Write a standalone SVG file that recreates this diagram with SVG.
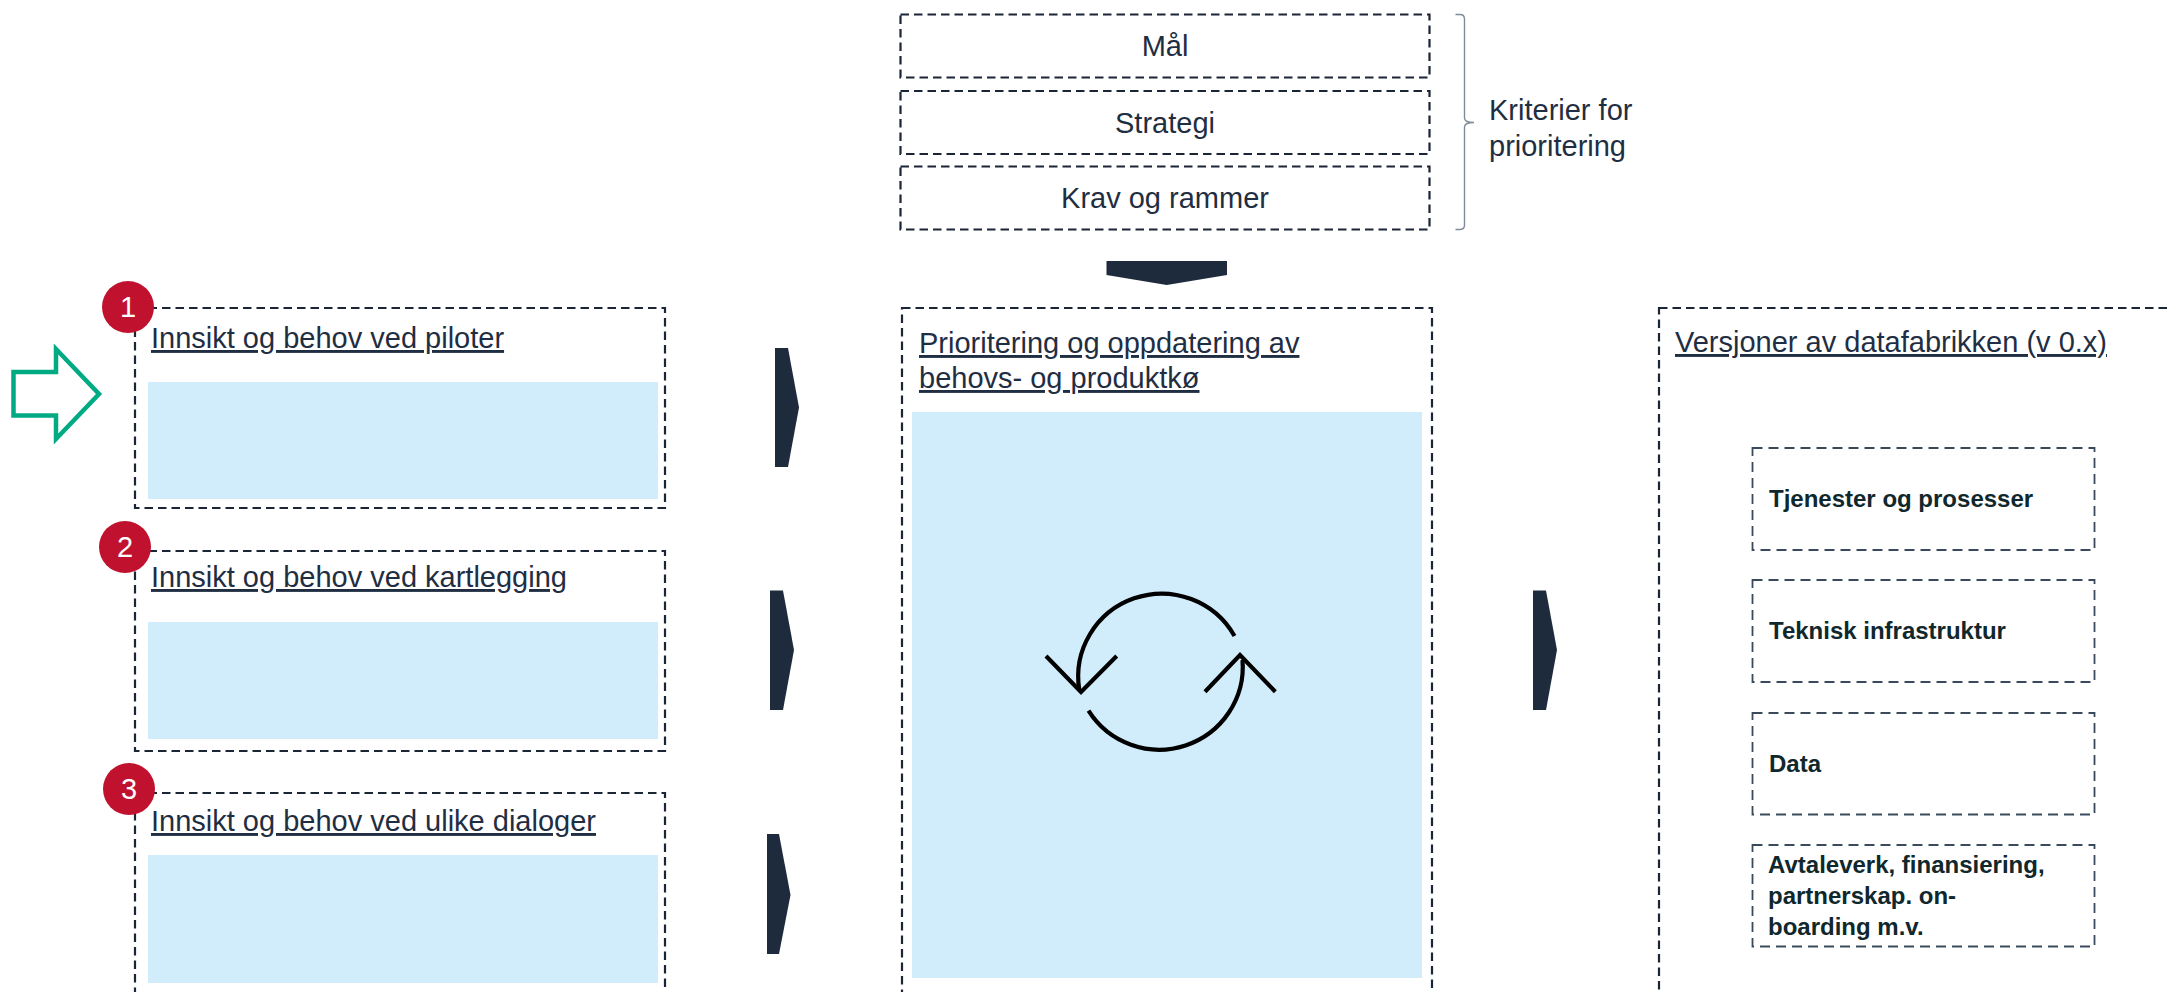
<svg xmlns="http://www.w3.org/2000/svg" width="2169" height="992" viewBox="0 0 2169 992">
<style>
.box{fill:none;stroke:#1a2535;stroke-width:2.2;stroke-dasharray:8.5 5}
.sub{fill:none;stroke:#3a4a5c;stroke-width:1.8;stroke-dasharray:10 6}
.blue{fill:#d1edfc}
.t{font-family:"Liberation Sans",Arial,sans-serif;font-size:29px;fill:#1f2e42}
.u{text-decoration:underline}
.c{text-anchor:middle}
.b{font-family:"Liberation Sans",Arial,sans-serif;font-size:24px;font-weight:700;fill:#10272c}
.badge{fill:#c0122e}
.n{font-family:"Liberation Sans",Arial,sans-serif;font-size:29px;fill:#fff;text-anchor:middle}
.arr{fill:#1e2b3c}
.ic{fill:none;stroke:#000;stroke-width:4.2}
</style>
<rect width="2169" height="992" fill="#fff"/>
<g id="criteria-maal"><rect class="box" x="900.5" y="14.5" width="529" height="63"/><text class="t c" x="1165" y="56">Mål</text></g>
<g id="criteria-strategi"><rect class="box" x="900.5" y="91" width="529" height="63"/><text class="t c" x="1165" y="133">Strategi</text></g>
<g id="criteria-krav"><rect class="box" x="900.5" y="166.5" width="529" height="63"/><text class="t c" x="1165" y="208">Krav og rammer</text></g>
<g id="criteria-label">
<path d="M1455.5 14.5H1460Q1464.5 14.5 1464.5 19V118Q1464.5 122.5 1474 122.5Q1464.5 122.5 1464.5 127V225Q1464.5 229.5 1460 229.5H1455.5" fill="none" stroke="#7f8b98" stroke-width="1.4"/>
<text class="t" x="1489" y="120">Kriterier for</text><text class="t" x="1489" y="156">prioritering</text>
</g>
<g id="pointer"><path d="M13.5 372H56V349L99 394 56 439V415.500H13.5Z" fill="#fff" stroke="#00ab84" stroke-width="4.500"/></g>
<g id="node-piloter"><rect class="box" x="135" y="308" width="530" height="200"/><rect class="blue" x="148" y="382" width="510" height="117"/><text class="t u" x="151" y="348">Innsikt og behov ved piloter</text><circle class="badge" cx="128" cy="307" r="26"/><text class="n" x="128" y="317">1</text></g>
<g id="node-kartlegging"><rect class="box" x="135" y="551" width="530" height="200"/><rect class="blue" x="148" y="622" width="510" height="117"/><text class="t u" x="151" y="587">Innsikt og behov ved kartlegging</text><circle class="badge" cx="125" cy="547" r="26"/><text class="n" x="125" y="557">2</text></g>
<g id="node-dialoger"><rect class="box" x="135" y="793" width="530" height="260"/><rect class="blue" x="148" y="855" width="510" height="128"/><text class="t u" x="151" y="831">Innsikt og behov ved ulike dialoger</text><circle class="badge" cx="129" cy="789" r="26"/><text class="n" x="129" y="799">3</text></g>
<g id="node-prioritering"><rect class="box" x="902" y="308" width="530" height="760"/><rect class="blue" x="912" y="412" width="510" height="566"/><text class="t u" x="919" y="353">Prioritering og oppdatering av</text><text class="t u" x="919" y="388">behovs- og produktkø</text>
<g class="ic"><path d="M1234.500 636A83.500 83 0 0 0 1079.300 690"/><path d="M1088.500 710.700A83.500 83 0 0 0 1242.500 660"/><path d="M1046 656L1081 692 1116.700 656"/><path d="M1205 691.700L1240 655 1275.300 691.700"/></g></g>
<g id="node-versjoner"><rect class="box" x="1659" y="308" width="600" height="760"/><text class="t u" x="1675" y="352">Versjoner av datafabrikken (v 0.x)</text></g>
<g id="sub-tjenester"><rect class="sub" x="1752.500" y="448" width="342" height="102"/><text class="b" x="1769" y="507">Tjenester og prosesser</text></g>
<g id="sub-teknisk"><rect class="sub" x="1752.500" y="580" width="342" height="102"/><text class="b" x="1769" y="639">Teknisk infrastruktur</text></g>
<g id="sub-data"><rect class="sub" x="1752.500" y="713" width="342" height="101.500"/><text class="b" x="1769" y="772">Data</text></g>
<g id="sub-avtale"><rect class="sub" x="1752.500" y="845" width="342" height="101.500"/><text class="b" x="1768" y="873">Avtaleverk, finansiering,</text><text class="b" x="1768" y="904">partnerskap. on-</text><text class="b" x="1768" y="935">boarding m.v.</text></g>
<g id="connectors">
<path class="arr" d="M1106.500 261H1227V275L1166.700 285 1106.500 275Z"/>
<path class="arr" d="M775 348H788L799 407.500 788 467H775Z"/>
<path class="arr" d="M770 590.500H783L794 650 783 710H770Z"/>
<path class="arr" d="M767 834H779L790.500 895 779 954H767Z"/>
<path class="arr" d="M1533 590.500H1546L1557 650 1546 710H1533Z"/>
</g>
</svg>
